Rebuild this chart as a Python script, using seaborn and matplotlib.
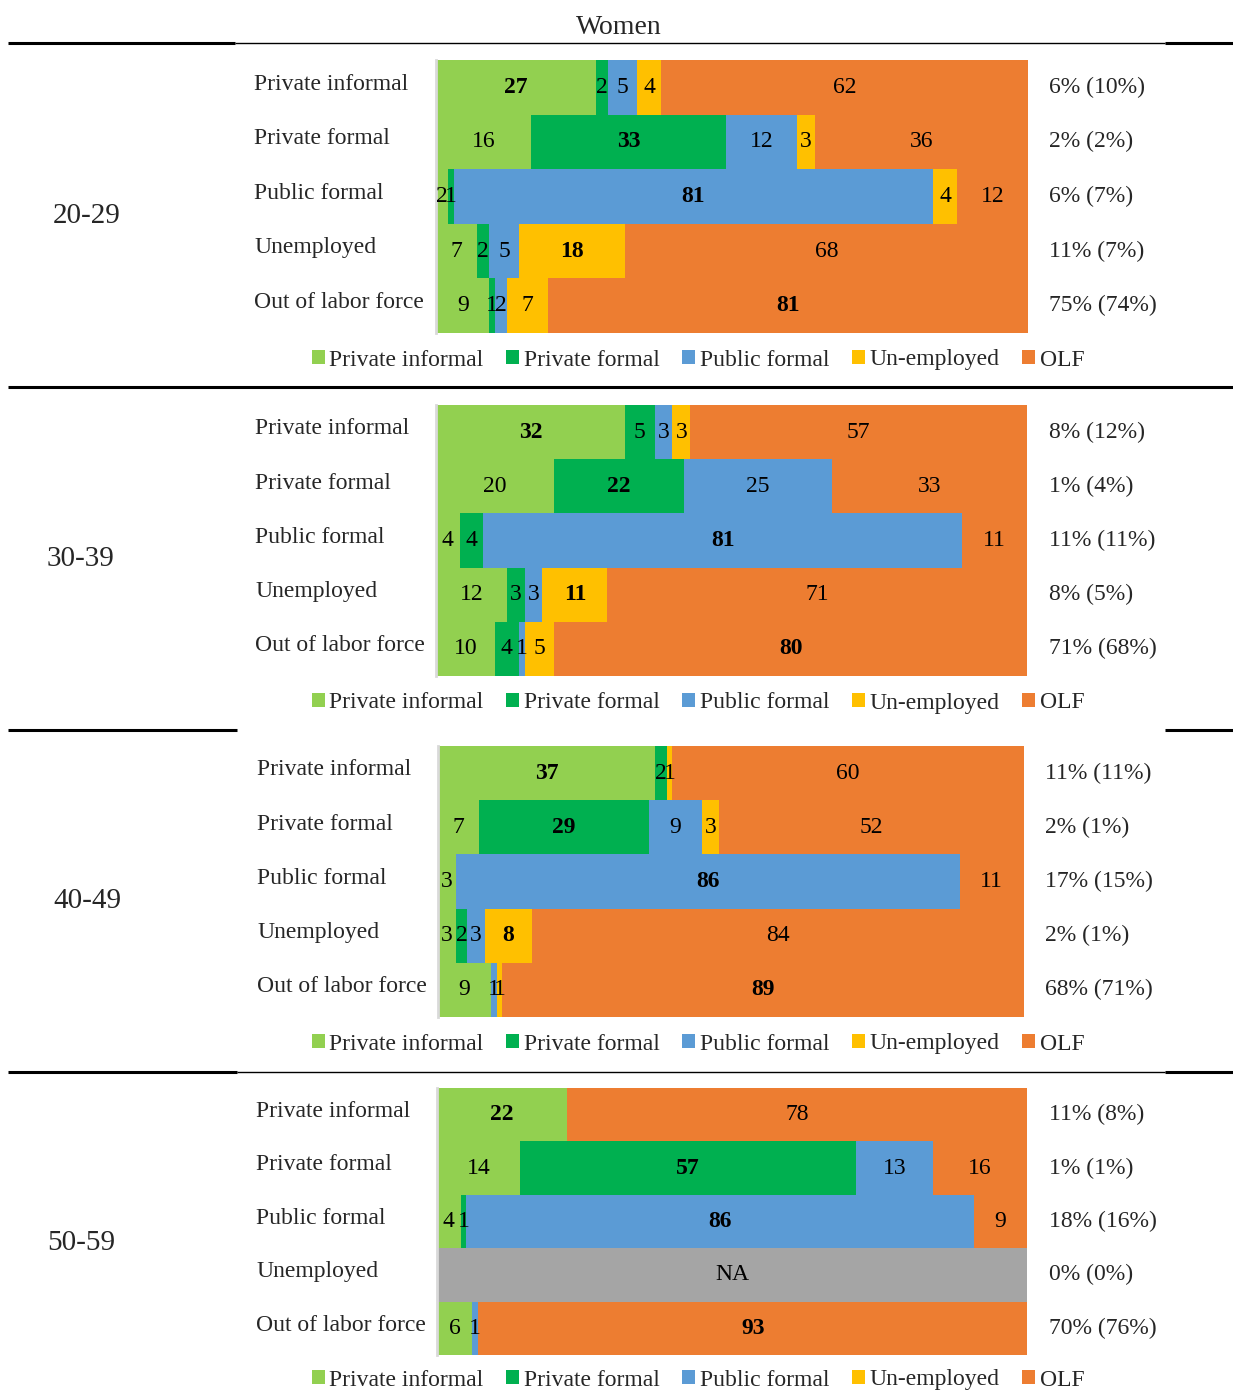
import numpy as np
import pandas as pd
import matplotlib
matplotlib.use("Agg")
import matplotlib.pyplot as plt
from matplotlib.patches import Patch
from matplotlib.lines import Line2D
from matplotlib.transforms import blended_transform_factory
import seaborn as sns

sns.set_theme(style="white")
plt.rcParams['font.family'] = ['Liberation Serif', 'DejaVu Serif']

# ---------------- data ----------------
rows = ["Private informal", "Private formal", "Public formal", "Unemployed", "Out of labor force"]
series = ["Private informal", "Private formal", "Public formal", "Un-employed", "OLF"]
ages = ["20-29", "30-39", "40-49", "50-59"]

vals_20_29 = [[27, 2, 5, 4, 62],
              [16, 33, 12, 3, 36],
              [2, 1, 81, 4, 12],
              [7, 2, 5, 18, 68],
              [9, 1, 2, 7, 81]]
vals_30_39 = [[32, 5, 3, 3, 57],
              [20, 22, 25, 0, 33],
              [4, 4, 81, 0, 11],
              [12, 3, 3, 11, 71],
              [10, 4, 1, 5, 80]]
vals_40_49 = [[37, 2, 0, 1, 60],
              [7, 29, 9, 3, 52],
              [3, 0, 86, 0, 11],
              [3, 2, 3, 8, 84],
              [9, 0, 1, 1, 89]]
vals_50_59 = [[22, 0, 0, 0, 78],
              [14, 57, 13, 0, 16],
              [4, 1, 86, 0, 9],
              [np.nan, np.nan, np.nan, np.nan, np.nan],
              [6, 0, 1, 0, 93]]

share_20_29 = ["6% (10%)", "2% (2%)", "6% (7%)", "11% (7%)", "75% (74%)"]
share_30_39 = ["8% (12%)", "1% (4%)", "11% (11%)", "8% (5%)", "71% (68%)"]
share_40_49 = ["11% (11%)", "2% (1%)", "17% (15%)", "2% (1%)", "68% (71%)"]
share_50_59 = ["11% (8%)", "1% (1%)", "18% (16%)", "0% (0%)", "70% (76%)"]

colors = ["#92D050", "#00B050", "#5B9BD5", "#FFC000", "#ED7D31"]
na_color = "#A5A5A5"

# ---------------- layout (pixels) ----------------
W, H = 1233, 1391
fig = plt.figure(figsize=(W / 100, H / 100), dpi=100)

def fx(x):
    return x / W

def fy(y):
    return 1 - y / H

panels = [
    dict(vals=vals_20_29, share=share_20_29, box=(436, 60, 1028, 333), leg=360,
         lab_x=254, age_x=87, age_y=216, right_x=1049),
    dict(vals=vals_30_39, share=share_30_39, box=(436, 405, 1027, 676), leg=703,
         lab_x=255, age_x=81, age_y=559, right_x=1049),
    dict(vals=vals_40_49, share=share_40_49, box=(438, 746, 1024, 1017), leg=1044,
         lab_x=257, age_x=87, age_y=901, right_x=1045),
    dict(vals=vals_50_59, share=share_50_59, box=(437, 1088, 1027, 1355), leg=1380,
         lab_x=256, age_x=81, age_y=1243, right_x=1049),
]

FS = 17

for p, age in zip(panels, ages):
    x0, y0, x1, y1 = p["box"]
    ax = fig.add_axes([fx(x0), fy(y1), fx(x1 - x0), (y1 - y0) / H])
    v = np.array(p["vals"], dtype=float)
    cum = np.nancumsum(v, axis=1)
    na_rows = np.isnan(v).all(axis=1)
    # overplot cumulative sums, widest first
    for j in reversed(range(len(series))):
        df = pd.DataFrame({"row": rows, "cum": np.where(na_rows, np.nan, cum[:, j])})
        df = df.dropna()
        sns.barplot(data=df, x="cum", y="row", order=rows, orient="h", color=colors[j],
                    width=1.0, linewidth=0, saturation=1, errorbar=None, ax=ax)
    if na_rows.any():
        df_na = pd.DataFrame({"row": [r for r, n in zip(rows, na_rows) if n],
                              "cum": [100.0] * int(na_rows.sum())})
        sns.barplot(data=df_na, x="cum", y="row", order=rows, orient="h", color=na_color,
                    width=1.0, linewidth=0, saturation=1, errorbar=None, ax=ax)
    ax.set_xlim(0, 100)
    ax.set_ylim(len(rows) - 0.5, -0.5)
    ax.set_xlabel("")
    ax.set_ylabel("")
    ax.set_xticks([])
    ax.set_yticks([])
    for s in ["top", "right", "bottom"]:
        ax.spines[s].set_visible(False)
    ax.spines["left"].set_color("#D9D9D9")
    ax.spines["left"].set_linewidth(2)

    # segment labels
    for i in range(len(rows)):
        if na_rows[i]:
            ax.text(50, i, "NA", ha="center", va="center", fontsize=FS, color="black")
            continue
        start = 0
        for j in range(len(series)):
            val = v[i, j]
            if val > 0:
                ax.text(start + val / 2, i, f"{int(val)}", ha="center", va="center",
                        fontsize=FS, color="black",
                        fontweight="bold" if i == j else "normal")
            start += val

    # row labels and right-hand shares
    tr = blended_transform_factory(fig.transFigure, ax.transData)
    for i, r in enumerate(rows):
        ax.text(fx(p["lab_x"]), i - 0.06, r, transform=tr, ha="left", va="center",
                fontsize=FS, clip_on=False)
        ax.text(fx(p["right_x"]), i, p["share"][i], transform=tr, ha="left",
                va="center", fontsize=FS, clip_on=False)
    fig.text(fx(p["age_x"]), fy(p["age_y"]), age, ha="center", va="center", fontsize=21)

    handles = [Patch(facecolor=c, edgecolor="none") for c in colors]
    fig.legend(handles, series, loc="center", bbox_to_anchor=(fx(698), fy(p["leg"])),
               ncol=5, frameon=False, fontsize=FS, handlelength=0.55, handleheight=0.55,
               handletextpad=0.2, columnspacing=0.95, borderaxespad=0)

# title
fig.text(fx(619), fy(27), "Women", ha="center", va="center", fontsize=20)

# separator lines
def hline(y, xa, xb, lw):
    fig.add_artist(Line2D([fx(xa), fx(xb)], [fy(y), fy(y)], color="black", lw=lw,
                          solid_capstyle="butt"))

THICK, THIN = 2.2, 1.0
hline(43, 8, 235, THICK); hline(42.5, 235, 1165, THIN); hline(43, 1165, 1233, THICK)
hline(387, 8, 1233, THICK)
hline(730, 8, 237, THICK); hline(730, 1165, 1233, THICK)
hline(1072, 8, 237, THICK); hline(1071.5, 237, 1165, THIN); hline(1072, 1165, 1233, THICK)

fig.savefig("out.png", dpi=100)
